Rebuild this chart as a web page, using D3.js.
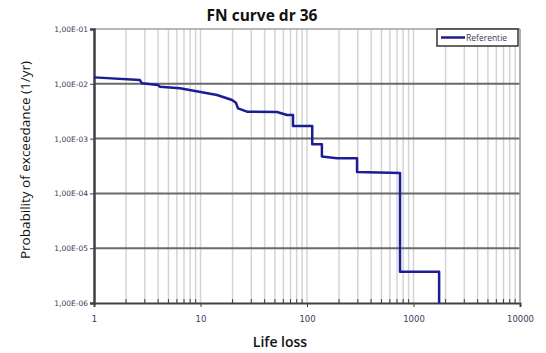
<!DOCTYPE html>
<html>
<head>
<meta charset="utf-8">
<script src="https://cdn.jsdelivr.net/npm/d3@7"></script>
<style>
  body { margin: 0; background: #fff; }
</style>
</head>
<body>
<svg width="546" height="353"></svg>
<script>
// FN curve vertices: life loss vs probability of exceedance
const lifeLoss = [1, 2.7, 2.82, 3.99, 4.17, 6.42, 14.3, 19.8, 21.5, 22.5, 27.3, 52.3, 64.9, 73.9, 73.9, 112, 112, 138, 138, 191, 295, 295, 747, 747, 1740, 1740];
const probability = [1.31e-2, 1.17e-2, 1.02e-2, 9.5e-3, 8.85e-3, 8.3e-3, 6.25e-3, 5.06e-3, 4.52e-3, 3.57e-3, 3.1e-3, 3.06e-3, 2.7e-3, 2.7e-3, 1.7e-3, 1.7e-3, 7.9e-4, 7.9e-4, 4.7e-4, 4.4e-4, 4.4e-4, 2.45e-4, 2.35e-4, 3.7e-6, 3.7e-6, 1e-6];

const xTicks = [1, 10, 100, 1000, 10000];
const yTicks = [1e-6, 1e-5, 1e-4, 1e-3, 1e-2, 1e-1];
const yTickLabels = ['1,00E-06', '1,00E-05', '1,00E-04', '1,00E-03', '1,00E-02', '1,00E-01'];
const seriesName = 'Referentie';

const sans = '"Open Sans", sans-serif';
const wide = '"DejaVu Sans", sans-serif';

const svg = d3.select('svg');
const plotL = 94, plotR = 520, plotT = 29, plotB = 303;

const x = d3.scaleLog().domain([1, 10000]).range([plotL, plotR]);
const y = d3.scaleLog().domain([1e-6, 1e-1]).range([plotB, plotT]);

// minor vertical grid lines (2..10 in each decade)
const minor = [];
for (let d = 1; d < 10000; d *= 10) {
  for (let k = 2; k <= 10; k++) minor.push(d * k);
}
svg.append('g')
  .selectAll('line')
  .data(minor)
  .enter()
  .append('line')
  .attr('x1', d => x(d)).attr('x2', d => x(d))
  .attr('y1', plotT).attr('y2', plotB)
  .attr('stroke', '#d4d4d4')
  .attr('stroke-width', 1.5);

// top border
svg.append('line')
  .attr('x1', plotL).attr('x2', plotR)
  .attr('y1', plotT).attr('y2', plotT)
  .attr('stroke', '#a0a0a0').attr('stroke-width', 1.5);

// major horizontal grid lines
svg.append('g')
  .selectAll('line')
  .data(yTicks.slice(1, 5))
  .enter()
  .append('line')
  .attr('x1', plotL).attr('x2', plotR)
  .attr('y1', d => y(d)).attr('y2', d => y(d))
  .attr('stroke', '#6a6a6a')
  .attr('stroke-width', 2);

// x axis
const xAxis = d3.axisBottom(x)
  .tickValues(xTicks)
  .tickFormat(d3.format('d'))
  .tickSize(4);
const gx = svg.append('g')
  .attr('transform', `translate(0,${plotB})`)
  .call(xAxis)
  .attr('font-family', wide)
  .attr('font-size', 8.5);
gx.select('.domain').attr('stroke', '#404040').attr('stroke-width', 2);
gx.selectAll('.tick line').attr('stroke', '#404040');
gx.selectAll('.tick text')
  .attr('dy', 12)
  .attr('fill', '#3a3a5a');

// minor x ticks pointing up
svg.append('g')
  .selectAll('line')
  .data(minor.filter(d => xTicks.indexOf(d) < 0))
  .enter()
  .append('line')
  .attr('x1', d => x(d)).attr('x2', d => x(d))
  .attr('y1', plotB).attr('y2', plotB - 4)
  .attr('stroke', '#404040');

// y axis
const yAxis = d3.axisLeft(y)
  .tickValues(yTicks)
  .tickFormat((d, i) => yTickLabels[i])
  .tickSize(4);
const gy = svg.append('g')
  .attr('transform', `translate(${plotL},0)`)
  .call(yAxis)
  .attr('font-family', wide)
  .attr('font-size', 7.5);
gy.select('.domain').attr('stroke', '#404040').attr('stroke-width', 2.5);
gy.selectAll('.tick line').attr('stroke', '#404040');
gy.selectAll('.tick text')
  .attr('x', -6)
  .attr('fill', '#3a3a5a');

// right border
svg.append('line')
  .attr('x1', plotR).attr('x2', plotR)
  .attr('y1', plotT).attr('y2', plotB)
  .attr('stroke', '#a0a0a0').attr('stroke-width', 1.5);

// FN curve
const points = lifeLoss.map((d, i) => [d, probability[i]]);
const line = d3.line()
  .x(d => x(d[0]))
  .y(d => y(d[1]));
svg.append('path')
  .datum(points)
  .attr('d', line)
  .attr('fill', 'none')
  .attr('stroke', '#1c1c96')
  .attr('stroke-width', 2.5)
  .attr('stroke-linejoin', 'round');

// legend
const lg = svg.append('g').attr('transform', 'translate(437,29)');
lg.append('rect')
  .attr('width', 81).attr('height', 17)
  .attr('fill', '#fff')
  .attr('stroke', '#333').attr('stroke-width', 1.5);
lg.append('line')
  .attr('x1', 4).attr('x2', 28)
  .attr('y1', 8.5).attr('y2', 8.5)
  .attr('stroke', '#1c1c96').attr('stroke-width', 2.5);
lg.append('text')
  .attr('x', 29).attr('y', 11.5)
  .attr('fill', '#3a3a5a')
  .attr('font-family', sans)
  .attr('font-size', 8.5)
  .text(seriesName);

// titles
svg.append('text')
  .attr('x', 262).attr('y', 21)
  .attr('text-anchor', 'middle')
  .attr('font-family', sans)
  .attr('font-size', 15.5)
  .attr('font-weight', 'bold')
  .attr('fill', '#111')
  .text('FN curve dr 36');

svg.append('text')
  .attr('x', 280).attr('y', 347)
  .attr('text-anchor', 'middle')
  .attr('font-family', sans)
  .attr('font-size', 14)
  .attr('font-weight', 600)
  .attr('fill', '#111')
  .text('Life loss');

svg.append('text')
  .attr('transform', 'translate(30,160) rotate(-90)')
  .attr('text-anchor', 'middle')
  .attr('font-family', sans)
  .attr('font-size', 13.5)
  .attr('fill', '#111')
  .text('Probability of exceedance (1/yr)');
</script>
</body>
</html>
